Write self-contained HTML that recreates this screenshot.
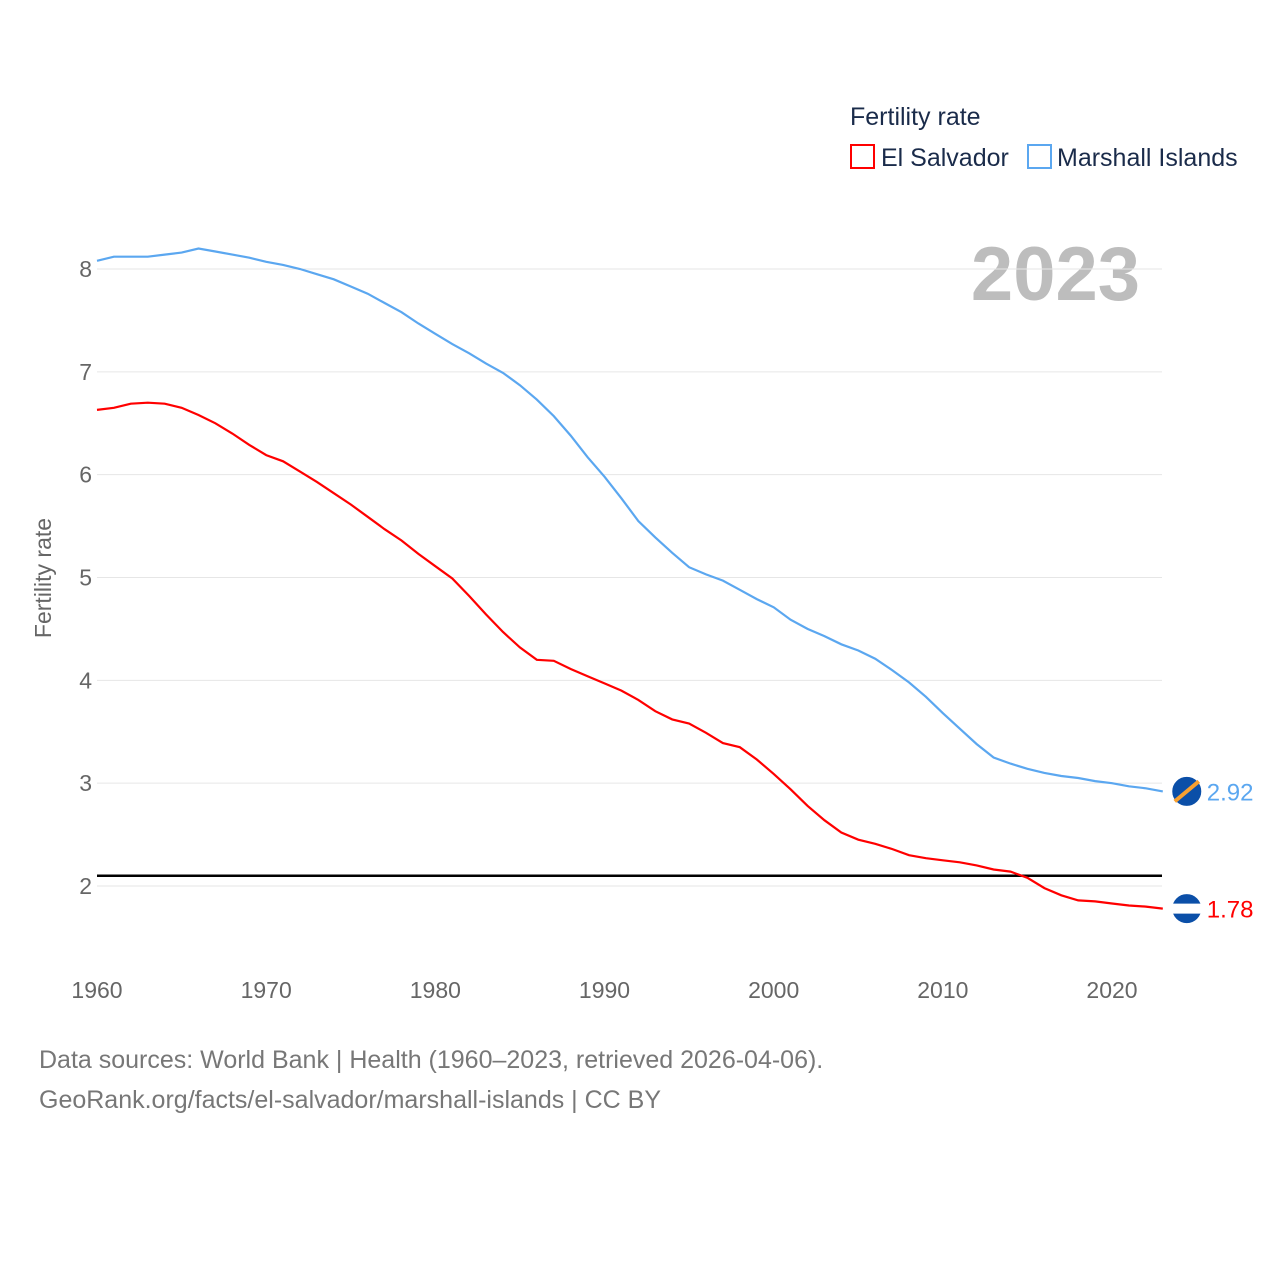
<!DOCTYPE html>
<html><head><meta charset="utf-8"><style>
html,body{margin:0;padding:0;background:#fff;}
body{width:1280px;height:1280px;overflow:hidden;font-family:"Liberation Sans",sans-serif;}
</style></head><body>
<svg id="chart" width="1280" height="1280" xmlns="http://www.w3.org/2000/svg" font-family="Liberation Sans, sans-serif">
<text x="850" y="125" font-size="25" fill="#1a2b4a">Fertility rate</text>
<rect x="851" y="145" width="23" height="23" fill="none" stroke="#ff0000" stroke-width="2"/>
<text x="881" y="166" font-size="25" fill="#1a2b4a">El Salvador</text>
<rect x="1028" y="145" width="23" height="23" fill="none" stroke="#5ba7f0" stroke-width="2"/>
<text x="1057" y="166" font-size="25" fill="#1a2b4a">Marshall Islands</text>
<text x="1140" y="300" font-size="76" font-weight="bold" fill="#bdbdbd" text-anchor="end">2023</text>
<g id="grid"></g><g id="yticks"></g><g id="xticks"></g>
<text transform="translate(51,578) rotate(-90)" font-size="23" fill="#666" text-anchor="middle">Fertility rate</text>
<g id="lines"></g>
<text x="39" y="1068" font-size="25" fill="#777">Data sources: World Bank | Health (1960–2023, retrieved 2026-04-06).</text>
<text x="39" y="1108" font-size="25" fill="#777">GeoRank.org/facts/el-salvador/marshall-islands | CC BY</text>
</svg>
<script>
const years=[];for(let y=1960;y<=2023;y++)years.push(y);
const elSalvador=[6.63,6.65,6.69,6.70,6.69,6.65,6.58,6.50,6.40,6.29,6.19,6.13,6.03,5.93,5.82,5.71,5.59,5.47,5.36,5.23,5.11,4.99,4.82,4.64,4.47,4.32,4.20,4.19,4.11,4.04,3.97,3.90,3.81,3.70,3.62,3.58,3.49,3.39,3.35,3.23,3.09,2.94,2.78,2.64,2.52,2.45,2.41,2.36,2.30,2.27,2.25,2.23,2.20,2.16,2.14,2.08,1.98,1.91,1.86,1.85,1.83,1.81,1.80,1.78];
const marshall=[8.08,8.12,8.12,8.12,8.14,8.16,8.20,8.17,8.14,8.11,8.07,8.04,8.00,7.95,7.90,7.83,7.76,7.67,7.58,7.47,7.37,7.27,7.18,7.08,6.99,6.87,6.73,6.57,6.38,6.17,5.98,5.77,5.55,5.39,5.24,5.10,5.03,4.97,4.88,4.79,4.71,4.59,4.50,4.43,4.35,4.29,4.21,4.10,3.98,3.84,3.68,3.53,3.38,3.25,3.19,3.14,3.10,3.07,3.05,3.02,3.00,2.97,2.95,2.92];
const yTicks=[2,3,4,5,6,7,8];
const xTicks=[1960,1970,1980,1990,2000,2010,2020];
const replacement=2.1;
const NS="http://www.w3.org/2000/svg";
const X=y=>97+(y-1960)*16.917;
const Y=v=>886-(v-2)*102.83;
function mk(t,a,p){const e=document.createElementNS(NS,t);for(const k in a)e.setAttribute(k,a[k]);document.getElementById(p).appendChild(e);return e;}
yTicks.forEach(v=>{
 const l=mk('line',{x1:97,x2:1162,y1:Y(v),y2:Y(v),stroke:'#e6e6e6','stroke-width':1},'grid');
 
 
 const t=mk('text',{x:92,y:Y(v)+8,'font-size':23,fill:'#666','text-anchor':'end'},'yticks');t.textContent=v;
 
 
});
xTicks.forEach(v=>{
 const t=mk('text',{x:X(v),y:998,'font-size':23,fill:'#666','text-anchor':'middle'},'xticks');t.textContent=v;
 
 
});
const rl=mk('line',{x1:97,x2:1162,y1:Y(replacement),y2:Y(replacement),stroke:'#000','stroke-width':2.5},'lines');


function series(d,c,name){
 const p=mk('path',{d:d.map((v,i)=>(i?'L':'M')+X(years[i]).toFixed(1)+','+Y(v).toFixed(1)).join(''),fill:'none',stroke:c,'stroke-width':2.2},'lines');
 
 
 const last=d[d.length-1],lx=X(years[years.length-1]),ly=Y(last);
 const cc=mk('circle',{cx:lx+24,cy:ly,r:15,fill:'#0b4fa8',stroke:'#fff','stroke-width':1},'lines');
 
 
 if(name=='el-salvador'){const w=mk('rect',{x:lx+9,y:ly-5,width:30,height:10,fill:'#fff'},'lines');}
 else{const s=mk('line',{x1:lx+12,y1:ly+10,x2:lx+36,y2:ly-10,stroke:'#f8a030','stroke-width':4},'lines');}
 const t=mk('text',{x:lx+44,y:ly+9,'font-size':24,fill:c},'lines');t.textContent=last.toFixed(2);
 
 
}
series(marshall,'#5ba7f0','marshall-islands');
series(elSalvador,'#ff0000','el-salvador');
</script>
</body></html>
